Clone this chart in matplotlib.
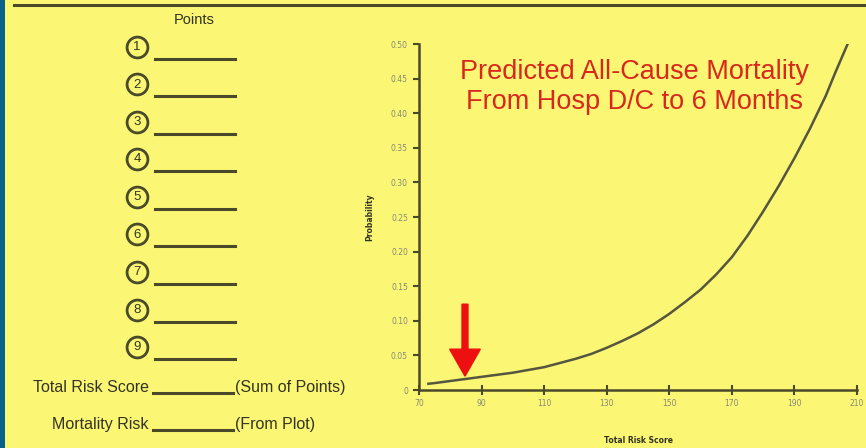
import numpy as np
import matplotlib.pyplot as plt
from matplotlib.patches import Rectangle

# Curve values
score = [73, 75, 80, 85, 90, 95, 100, 105, 110, 115, 120, 125, 130, 135, 140,
         145, 150, 155, 160, 165, 170, 175, 180, 185, 190, 195, 200, 203, 207]
prob = [0.009, 0.010, 0.013, 0.016, 0.019, 0.022, 0.025, 0.029, 0.033, 0.039,
        0.045, 0.052, 0.061, 0.071, 0.082, 0.095, 0.110, 0.127, 0.145, 0.167,
        0.192, 0.223, 0.258, 0.295, 0.335, 0.378, 0.425, 0.458, 0.50]

x_ticks = [70, 90, 110, 130, 150, 170, 190, 210]
y_ticks = [0, 0.05, 0.10, 0.15, 0.20, 0.25, 0.30, 0.35, 0.40, 0.45, 0.50]
y_tick_labels = ["0", "0.05", "0.10", "0.15", "0.20", "0.25", "0.30", "0.35", "0.40", "0.45", "0.50"]

point_numbers = ["1", "2", "3", "4", "5", "6", "7", "8", "9"]

arrow_score = 84.7
arrow_top = 0.124
arrow_tip = 0.020

yellow = "#fbf674"
red = "#d8281e"
dark = "#4a4a2a"
text_col = "#333322"

fig = plt.figure(figsize=(8.66, 4.48), dpi=100)
fig.patch.set_facecolor(yellow)

# blue strip on the left and black rule on top
fig.patches.append(Rectangle((0, 0), 5 / 866, 1, transform=fig.transFigure,
                             facecolor="#0a6088", edgecolor="none", zorder=0))
fig.add_artist(plt.Line2D([14 / 866, 1], [1 - 5 / 448, 1 - 5 / 448],
                          transform=fig.transFigure, color=dark, lw=2.2))

# ---- plot on the right ----
ax = fig.add_axes([419 / 866, 1 - 390 / 448, (857 - 419) / 866, (390 - 44) / 448])
ax.set_facecolor(yellow)
ax.plot(score, prob, color="#555540", lw=1.8)
ax.set_xlim(70, 210)
ax.set_ylim(0, 0.5)
ax.set_xticks(x_ticks)
ax.set_xticklabels([str(v) for v in x_ticks])
ax.set_yticks(y_ticks)
ax.set_yticklabels(y_tick_labels)
for s in ["top", "right"]:
    ax.spines[s].set_visible(False)
for s in ["left", "bottom"]:
    ax.spines[s].set_color(dark)
    ax.spines[s].set_linewidth(1.8)
ax.tick_params(axis="x", direction="inout", length=7, width=1.5, color=dark,
               labelsize=5.5, labelcolor="#888877", pad=3)
ax.tick_params(axis="y", direction="out", length=4, width=1.5, color=dark,
               labelsize=5.5, labelcolor="#888877", pad=4)
ax.set_xlabel("Total Risk Score", fontsize=5.5, fontweight="bold", color=text_col, labelpad=20)
ax.set_ylabel("Probability", fontsize=5.5, fontweight="bold", color=text_col, labelpad=12)

ax.arrow(arrow_score, arrow_top, 0, arrow_tip - arrow_top, width=1.9, head_width=9.8,
         head_length=0.039, length_includes_head=True, color="#ee1010", zorder=5)

fig.text(634 / 866, 1 - 87 / 448, "Predicted All-Cause Mortality\nFrom Hosp D/C to 6 Months",
         ha="center", va="center", color=red, fontsize=19.5, linespacing=1.22,
         family="Liberation Sans")

# ---- worksheet on the left ----
fig.text(194 / 866, 1 - 20 / 448, "Points", ha="center", va="center", fontsize=10.5,
         color=text_col, family="Liberation Sans")
for i, n in enumerate(point_numbers):
    yc = 47 + i * 37.5
    fig.add_artist(plt.Line2D([137 / 866], [1 - yc / 448], transform=fig.transFigure,
                              marker="o", markersize=15, markerfacecolor="none",
                              markeredgecolor=dark, markeredgewidth=2))
    fig.text(137 / 866, 1 - yc / 448, n, ha="center", va="center", fontsize=9.5,
             color=text_col, family="Liberation Sans")
    fig.add_artist(plt.Line2D([155 / 866, 235 / 866], [1 - (yc + 12) / 448] * 2,
                              transform=fig.transFigure, color=dark, lw=2.2))

for label, note, yc in [("Total Risk Score", "(Sum of Points)", 387),
                        ("Mortality Risk", "(From Plot)", 424)]:
    fig.text(149 / 866, 1 - yc / 448, label, ha="right", va="center", fontsize=11.5,
             color=text_col, family="Liberation Sans")
    fig.add_artist(plt.Line2D([153 / 866, 233 / 866], [1 - (yc + 6) / 448] * 2,
                              transform=fig.transFigure, color=dark, lw=2.2))
    fig.text(235 / 866, 1 - yc / 448, note, ha="left", va="center", fontsize=11.5,
             color=text_col, family="Liberation Sans")

fig.savefig("out.png", dpi=100, facecolor=yellow)
